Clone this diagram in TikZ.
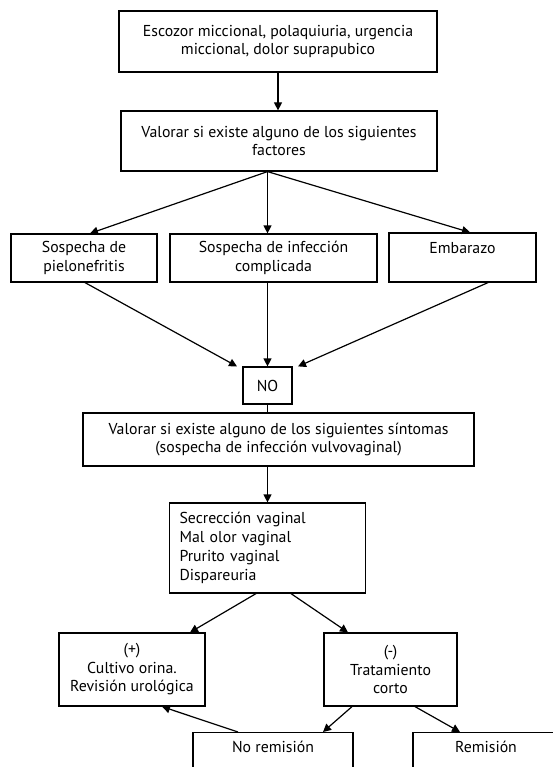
\documentclass[tikz,border=0pt]{standalone}
\usepackage{fontspec}
\setmainfont{PT Sans}
\usepackage{tikz}
\usetikzlibrary{arrows.meta,calc}

\begin{document}
\begin{tikzpicture}[x=1pt,y=-1pt,
  box/.style={draw,line width=1.2pt,inner sep=0pt,align=center,
    font=\fontsize{15.8}{18.5}\selectfont},
  arr/.style={line width=1.2pt,-{Triangle[length=8pt,width=8pt]}}]
\useasboundingbox (0,0) rectangle (553,767);
\clip (0,0) rectangle (553,767);
% Boxes (centres and sizes taken from the page grid)
\node[box,minimum width=318,minimum height=61] (sint) at (278,41.5)
  {Escozor miccional, polaquiuria, urgencia\\miccional, dolor suprapubico};
\node[box,minimum width=316,minimum height=60] (fact) at (279,141)
  {Valorar si existe alguno de los siguientes\\factores};
\node[box,minimum width=146,minimum height=48] (pielo) at (84,258)
  {Sospecha de\\pielonefritis};
\node[box,minimum width=207,minimum height=48] (compl) at (273.5,258)
  {Sospecha de infección\\complicada};
\node[box,minimum width=147,minimum height=49] (emb) at (462.5,257.5)
  {Embarazo\\\mbox{}};
\node[box,minimum width=49,minimum height=37] (no) at (267.5,385.5) {NO};
\node[box,minimum height=53,minimum width=391] (vulvo) at (278.5,439.5)
  {Valorar si existe alguno de los siguientes síntomas\\(sospecha de infección vulvovaginal)};
\node[box,minimum height=90,text width=176,inner xsep=10pt,align=left,
  font=\fontsize{15.8}{19}\selectfont] (lista) at (267.5,548)
  {Secrección vaginal\\Mal olor vaginal\\Prurito vaginal\\Dispareuria};
\node[box,minimum width=146,minimum height=73] (pos) at (132,669.5)
  {(+)\\Cultivo orina.\\Revisión urológica};
\node[box,minimum width=133,minimum height=73] (neg) at (390.5,669.5)
  {(-)\\Tratamiento\\corto};
\node[box,anchor=north,minimum width=160,text height=20pt,text depth=40pt]
  (noremi) at (273,732) {No remisión};
\node[box,anchor=north,minimum width=146,text height=20pt,text depth=40pt]
  (remi) at (486,732) {Remisión};
% Connectors
\draw[arr] (sint.south) -- (sint.south |- fact.north);
\draw[arr] ([xshift=-11.5pt]fact.south) -- ([xshift=6pt]pielo.north);
\draw[arr] ([xshift=-11.5pt]fact.south) -- ([xshift=-6pt]compl.north);
\draw[arr] ([xshift=-11.5pt]fact.south) -- ([xshift=7.5pt]emb.north);
\draw[arr] ([xshift=1pt]pielo.south) -- ([xshift=-30.5pt]no.north);
\draw[arr] ([xshift=-6pt]compl.south) -- (no.north);
\draw[arr] ([xshift=25.5pt]emb.south) -- ([xshift=30.5pt]no.north);
\draw[line width=1.2pt] (no.south) -- (no.south |- vulvo.north);
\draw[arr] ([xshift=-11pt]vulvo.south) -- (lista.north);
\draw[arr] ([xshift=-11.5pt]lista.south) -- ([xshift=58pt]pos.north);
\draw[arr] ([xshift=23.5pt]lista.south) -- ([xshift=-42.5pt]neg.north);
\draw[arr] ([xshift=-38.5pt]neg.south) -- ([xshift=50pt]noremi.north);
\draw[arr] ([xshift=24.5pt]neg.south) -- ([xshift=-26pt]remi.north);
\draw[arr] ([xshift=-35pt]noremi.north) -- ([xshift=30pt]pos.south);
\end{tikzpicture}
\end{document}
